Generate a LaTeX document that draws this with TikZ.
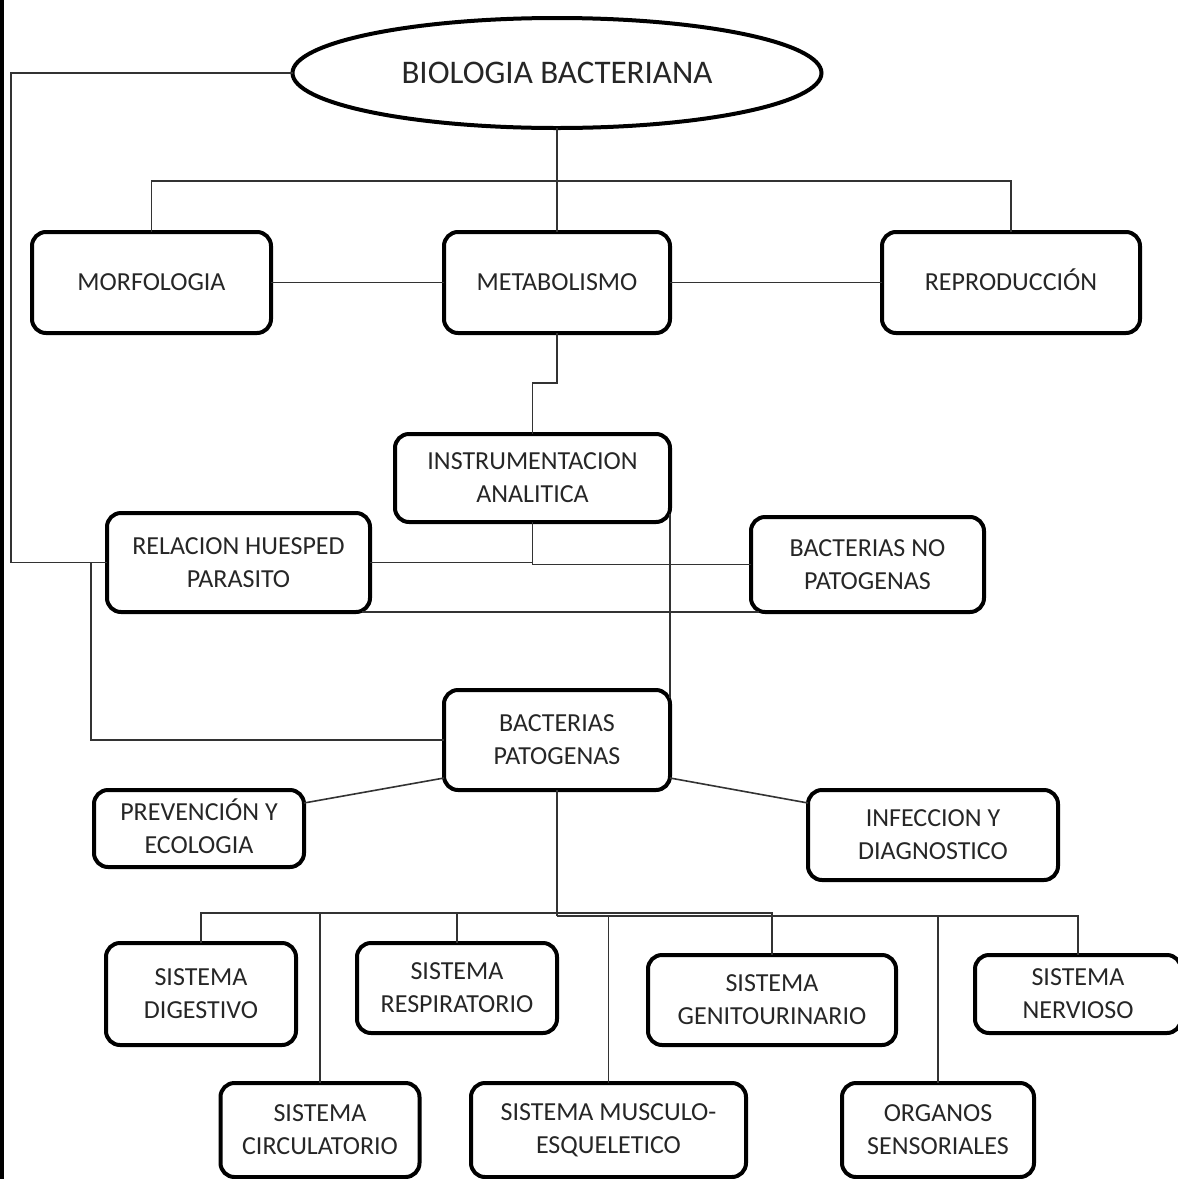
\documentclass[tikz,border=0pt]{standalone}
\usepackage{fontspec}
\setmainfont{Carlito}
\usetikzlibrary{shapes.geometric,calc}
\tikzset{
  box/.style={draw=black, line width=2pt, rounded corners=7pt, inner sep=0pt, outer sep=0pt,
    align=center, text=black!85, font=\fontsize{13}{16.5}\selectfont},
  oval/.style={draw=black, ellipse, line width=2pt, inner sep=0pt, outer sep=0pt,
    text=black!85, font=\fontsize{16.5}{20}\selectfont},
  conn/.style={draw=black!80, line width=0.8pt}
}
\begin{document}
\begin{tikzpicture}[x=0.5pt,y=-0.5pt]
\useasboundingbox (0,0) rectangle (1178,1179);
\fill[black] (0,0) rectangle (4,1179);
% nodes
\node[oval, minimum width=264.5pt, minimum height=55pt] (bio) at (557,73) {BIOLOGIA BACTERIANA};
\node[box, minimum width=119.5pt, minimum height=50.5pt] (morf) at (151.5,282.5) {MORFOLOGIA};
\node[box, minimum width=113pt, minimum height=50.5pt] (meta) at (557,282.5) {METABOLISMO};
\node[box, minimum width=129pt, minimum height=50.5pt] (repro) at (1011,282.5) {REPRODUCCI\smash{Ó}N};
\node[box, minimum width=137.5pt, minimum height=44pt] (instr) at (532.5,478) {INSTRUMENTACION\\ANALITICA};
\node[box, minimum width=131.5pt, minimum height=49.5pt] (rel) at (238.5,562.5) {RELACION HUESPED\\PARASITO};
\node[box, minimum width=116.5pt, minimum height=47.5pt] (bnp) at (867.5,564.5) {BACTERIAS NO\\PATOGENAS};
\node[box, minimum width=113pt, minimum height=50pt] (bp) at (557,740) {BACTERIAS\\PATOGENAS};
\node[box, minimum width=105pt, minimum height=38.5pt] (prev) at (199,828.5) {PREVENCI\smash{Ó}N Y\\ECOLOGIA};
\node[box, minimum width=125pt, minimum height=45pt] (infec) at (933,835) {INFECCION Y\\DIAGNOSTICO};
\node[box, minimum width=95pt, minimum height=51pt] (dig) at (201,994) {SISTEMA\\DIGESTIVO};
\node[box, minimum width=100pt, minimum height=45pt] (resp) at (457,988) {SISTEMA\\RESPIRATORIO};
\node[box, minimum width=124pt, minimum height=45pt] (genit) at (772,1000) {SISTEMA\\GENITOURINARIO};
\node[box, minimum width=103pt, minimum height=39pt] (nerv) at (1078,994) {SISTEMA\\NERVIOSO};
\node[box, minimum width=99.5pt, minimum height=47pt] (circ) at (320,1130) {SISTEMA\\CIRCULATORIO};
\node[box, minimum width=137.5pt, minimum height=47pt] (musc) at (608.5,1130) {SISTEMA MUSCULO-\\ESQUELETICO};
\node[box, minimum width=96pt, minimum height=47pt] (org) at (938,1130) {ORGANOS\\SENSORIALES};
% helper coordinates
\coordinate (lx) at (11,0);
\coordinate (lb) at (91,0);
\coordinate (tb) at (557,181);
\coordinate (busA) at (0,913);
\coordinate (busB) at (0,916);
% connectors
\draw[conn] (bio.west) -| (lx |- rel.west) -- (rel.west);
\draw[conn] (bio.south) -- (meta.north);
\draw[conn] (morf.north) |- (tb) -| (repro.north);
\draw[conn] (morf.east) -- (meta.west);
\draw[conn] (meta.east) -- (repro.west);
\draw[conn] (meta.south) -- ++(0,50) -| (instr.north);
\draw[conn] (rel.east) -- (instr.south |- rel.east);
\draw[conn] (instr.south) |- (bnp.west);
\draw[conn] ($(rel.south east)+(-8,0)$) -- ($(bnp.south west)+(8,0)$);
\draw[conn] ($(instr.south east)+(0,-8)$) -- ($(bp.north east)+(0,8)$);
\draw[conn] (lb |- rel.west) |- (bp.west);
\draw[conn] ($(bp.south west)+(0,-12)$) -- ($(prev.north east)+(0,13)$);
\draw[conn] ($(bp.south east)+(0,-12)$) -- ($(infec.north west)+(0,13)$);
\draw[conn] (bp.south) -- (bp.south |- busB);
\draw[conn] (dig.north) |- (genit.north |- busA) -- (genit.north);
\draw[conn] (circ.north) -- (circ.north |- busA);
\draw[conn] (resp.north) -- (resp.north |- busA);
\draw[conn] (bp.south |- busB) -| (nerv.north);
\draw[conn] (musc.north) -- (musc.north |- busB);
\draw[conn] (org.north) -- (org.north |- busB);
\end{tikzpicture}
\end{document}
